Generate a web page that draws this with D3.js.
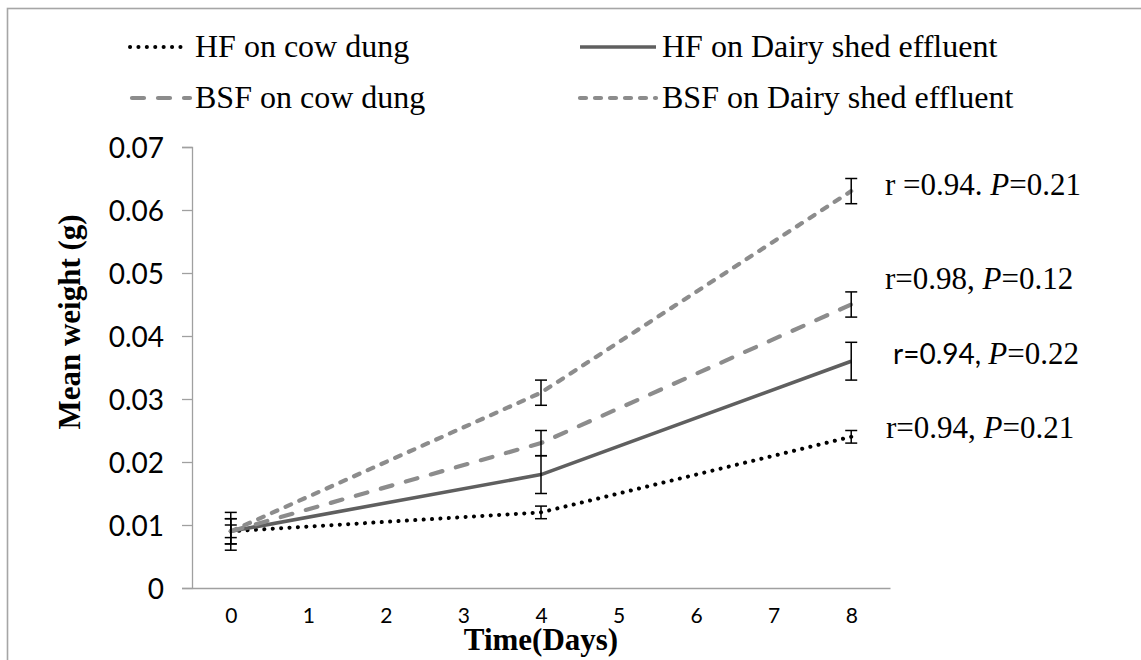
<!DOCTYPE html>
<html><head><meta charset="utf-8">
<script src="https://cdn.jsdelivr.net/npm/d3@7"></script>
<style>body{margin:0;background:#fff}svg{display:block}</style>
</head><body>
<svg id="c" width="1141" height="660"></svg>
<script>
const days = [0, 4, 8];
const xTicks = [0, 1, 2, 3, 4, 5, 6, 7, 8];
const yTicks = [0, 0.01, 0.02, 0.03, 0.04, 0.05, 0.06, 0.07];
const seriesNames = ["HF on cow dung", "HF on Dairy shed effluent", "BSF on cow dung", "BSF on Dairy shed effluent"];
const hfCow = [0.009, 0.012, 0.024];
const hfCowErr = [0.001, 0.001, 0.001];
const hfDairy = [0.009, 0.018, 0.036];
const hfDairyErr = [0.003, 0.003, 0.003];
const bsfCow = [0.009, 0.023, 0.045];
const bsfCowErr = [0.002, 0.002, 0.002];
const bsfDairy = [0.009, 0.031, 0.063];
const bsfDairyErr = [0.002, 0.002, 0.002];
const annotations = [
  {series: 3, parts: [["r =0.94. ", "serif", false], ["P", "serif", true], ["=0.21", "serif", false]]},
  {series: 2, parts: [["r=0.98, ", "serif", false], ["P", "serif", true], ["=0.12", "serif", false]]},
  {series: 1, parts: [["r=0.94, ", "sans", false], ["P", "serif", true], ["=0.22", "serif", false]]},
  {series: 0, parts: [["r=0.94, ", "serif", false], ["P", "serif", true], ["=0.21", "serif", false]]}
];

const styles = [
  {color: "#000000", width: 4, dash: "0.1 8.3", cap: "round"},
  {color: "#5f5f5f", width: 3.6, dash: null, cap: "butt"},
  {color: "#8c8c8c", width: 4.2, dash: "12 14", cap: "round"},
  {color: "#8c8c8c", width: 4.2, dash: "6 9", cap: "round"}
];
const series = [
  {name: seriesNames[0], v: hfCow, e: hfCowErr},
  {name: seriesNames[1], v: hfDairy, e: hfDairyErr},
  {name: seriesNames[2], v: bsfCow, e: bsfCowErr},
  {name: seriesNames[3], v: bsfDairy, e: bsfDairyErr}
];

const SERIF = "'Liberation Serif','Times New Roman',serif";
const SANS = "Lato,'Open Sans',sans-serif";
const svg = d3.select("#c");

// outer frame (cropped)
svg.append("rect").attr("x", 7.5).attr("y", 8.5).attr("width", 1300).attr("height", 800)
  .attr("fill", "none").attr("stroke", "#a6a6a6").attr("stroke-width", 1.6);

const x = d3.scaleLinear().domain([-0.5, 8.5]).range([192, 890]);
const y = d3.scaleLinear().domain([0, 0.07]).range([588, 147]);

// y axis
const gy = svg.append("g").attr("transform", "translate(192,0)")
  .call(d3.axisLeft(y).tickValues(yTicks).tickSize(10).tickPadding(18).tickFormat(d => d === 0 ? "0" : d3.format(".2f")(d)));
gy.select(".domain").attr("stroke", "#a0a0a0").attr("stroke-width", 1.3);
gy.selectAll(".tick line").attr("stroke", "#a0a0a0").attr("stroke-width", 1.3);
gy.selectAll(".tick text").attr("font-family", SANS).attr("font-size", 28).attr("fill", "#000").attr("dy", "0.36em");

// x axis
const gx = svg.append("g").attr("transform", "translate(0,588)")
  .call(d3.axisBottom(x).tickValues(xTicks).tickSize(0).tickPadding(20).tickFormat(d3.format("d")));
gx.select(".domain").attr("stroke", "#a0a0a0").attr("stroke-width", 1.3);
gx.selectAll(".tick text").attr("font-family", SANS).attr("font-size", 21).attr("fill", "#000").attr("dy", "0.71em");

// lines
const line = d3.line().x((d, i) => x(days[i])).y(d => y(d));
series.forEach((s, k) => {
  const st = styles[k];
  svg.append("path").datum(s.v).attr("d", line).attr("fill", "none")
    .attr("stroke", st.color).attr("stroke-width", st.width)
    .attr("stroke-dasharray", st.dash).attr("stroke-linecap", st.cap).attr("stroke-linejoin", "round");
});

// error bars
series.forEach(s => {
  s.v.forEach((v, i) => {
    const cx = x(days[i]), y1 = y(v + s.e[i]), y2 = y(v - s.e[i]);
    const g = svg.append("g").attr("stroke", "#000").attr("stroke-width", 1.5);
    g.append("line").attr("x1", cx).attr("x2", cx).attr("y1", y1).attr("y2", y2);
    g.append("line").attr("x1", cx - 6).attr("x2", cx + 6).attr("y1", y1).attr("y2", y1);
    g.append("line").attr("x1", cx - 6).attr("x2", cx + 6).attr("y1", y2).attr("y2", y2);
  });
});

// legend
const legPos = [
  {lx1: 130, lx2: 183, ly: 47, tx: 195, ty: 57},
  {lx1: 580, lx2: 656, ly: 47, tx: 662, ty: 57},
  {lx1: 132, lx2: 190, ly: 98, tx: 195, ty: 108},
  {lx1: 580, lx2: 656, ly: 98, tx: 662, ty: 108}
];
series.forEach((s, k) => {
  const p = legPos[k], st = styles[k];
  svg.append("line").attr("x1", p.lx1).attr("x2", p.lx2).attr("y1", p.ly).attr("y2", p.ly)
    .attr("stroke", st.color).attr("stroke-width", st.width)
    .attr("stroke-dasharray", st.dash).attr("stroke-linecap", st.cap);
  svg.append("text").attr("x", p.tx).attr("y", p.ty).attr("font-family", SERIF)
    .attr("font-size", 32).attr("fill", "#000").text(s.name);
});

// annotations
const annPos = [{x: 885, y: 195}, {x: 885, y: 289}, {x: 893, y: 364}, {x: 886, y: 438}];
annotations.forEach((a, k) => {
  const t = svg.append("text").attr("x", annPos[k].x).attr("y", annPos[k].y).attr("fill", "#000").attr("font-size", 31);
  a.parts.forEach(p => {
    t.append("tspan").attr("font-family", p[1] === "sans" ? SANS : SERIF)
      .attr("font-size", p[1] === "sans" ? 28 : 31)
      .attr("font-style", p[2] ? "italic" : "normal").text(p[0]);
  });
});

// axis titles
svg.append("text").attr("x", 541).attr("y", 650).attr("text-anchor", "middle")
  .attr("font-family", SERIF).attr("font-weight", "bold").attr("font-size", 31).text("Time(Days)");
svg.append("text").attr("transform", "translate(80,322) rotate(-90)").attr("text-anchor", "middle")
  .attr("font-family", SERIF).attr("font-weight", "bold").attr("font-size", 31).text("Mean weight (g)");
</script>
</body></html>
